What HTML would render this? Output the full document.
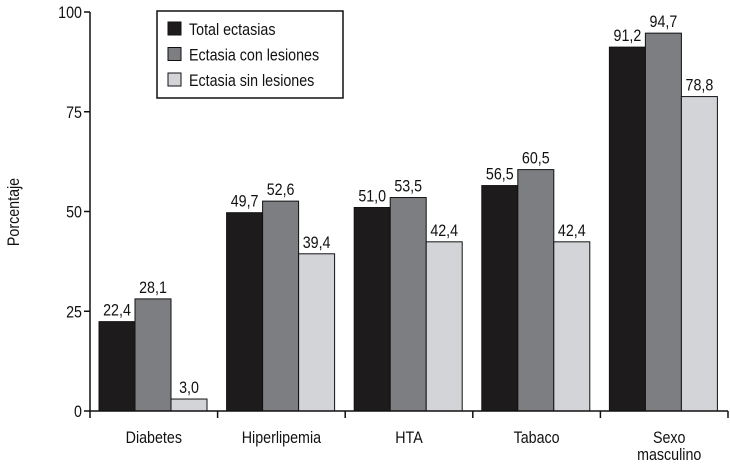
<!DOCTYPE html>
<html><head><meta charset="utf-8"><style>
body{margin:0;background:#fff}
svg{display:block;font-family:"Liberation Sans Narrow","Liberation Sans",sans-serif}
</style></head><body>
<svg width="730" height="465">
<g id="chart"></g>
</svg>
<script>
const categories=["Diabetes","Hiperlipemia","HTA","Tabaco","Sexo|masculino"];
const totalEctasias=[22.4,49.7,51.0,56.5,91.2];
const conLesiones=[28.1,52.6,53.5,60.5,94.7];
const sinLesiones=[3.0,39.4,42.4,42.4,78.8];
const yTicks=[0,25,50,75,100];
const seriesNames=["Total ectasias","Ectasia con lesiones","Ectasia sin lesiones"];
const colors=["#1e1b1c","#7c7e81","#d2d4d7"];
const series=[totalEctasias,conLesiones,sinLesiones];
const NS="http://www.w3.org/2000/svg";
const g=document.getElementById('chart');
const x0=90,groupW=127.6,barW=36,y0=411,y100=12,SX=0.84;
const y=v=>y0-(v/100)*(y0-y100);
const gx=i=>x0+i*groupW;
function el(t,a,p){const e=document.createElementNS(NS,t);for(const k in a)e.setAttribute(k,a[k]);(p||g).appendChild(e);return e;}
function txt(x,yy,anchor,p){return el('text',{x:0,y:0,transform:`translate(${x},${yy}) scale(${SX},1)`,"text-anchor":anchor,"font-size":17,fill:"#111"},p);}
series.forEach((s,si)=>{s.forEach((v,i)=>{
 const r=el('rect',{x:gx(i)+9+si*barW,y:y(v),width:barW,height:y0-y(v),fill:colors[si],stroke:"#111","stroke-width":1});
 
 
 const t=txt(gx(i)+9+si*barW+barW/2,y(v)-6,"middle");
 t.textContent=v.toFixed(1).replace('.',',');
 
 
});});
const ax=el('path',{d:`M${x0} ${y100}V${y0}H${gx(5)}`,fill:"none",stroke:"#111","stroke-width":1.5});


yTicks.forEach(v=>{
 el('line',{x1:x0-6,x2:x0,y1:y(v),y2:y(v),stroke:"#111","stroke-width":1.5});
 const t=txt(x0-8,y(v)+6,"end");
 t.textContent=v;
 
 
});
for(let i=0;i<=5;i++)el('line',{x1:gx(i),x2:gx(i),y1:y0,y2:y0+7,stroke:"#111","stroke-width":1.5});
categories.forEach((c,i)=>{
 c.split('|').forEach((ln,j)=>{
  const t=txt(gx(i)+groupW/2+(i==4?5:0),443+j*17,"middle");
  t.textContent=ln;
  
  
 });
});
const yl=el('text',{x:0,y:0,transform:`translate(19,212) rotate(-90) scale(${SX},1)`,"text-anchor":"middle","font-size":17,fill:"#111"});
yl.textContent="Porcentaje";


const lg=el('g',{});


el('rect',{x:157,y:11,width:186,height:87,fill:"#fff",stroke:"#111","stroke-width":1.5},lg);
seriesNames.forEach((n,i)=>{
 el('rect',{x:168,y:22+i*25.5,width:13,height:13,fill:colors[i],stroke:"#111"},lg);
 const t=txt(189,35+i*25.5,"start",lg);
 t.textContent=n;
 
 
});
</script>
</body></html>
